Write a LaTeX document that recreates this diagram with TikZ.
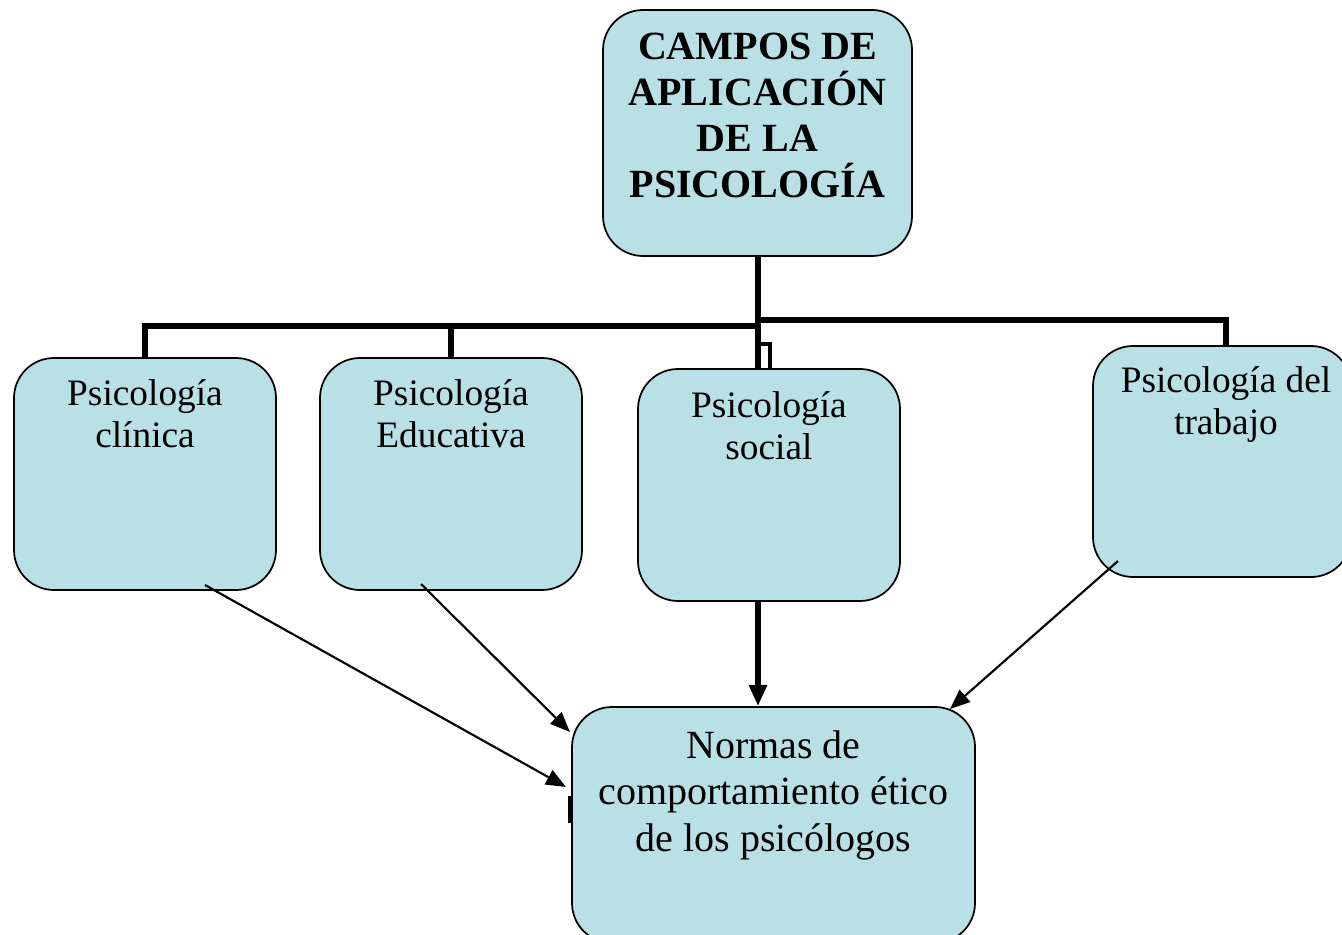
\documentclass[tikz,border=0pt]{standalone}
\usepackage{fontspec}
\setmainfont{Liberation Serif}
\usetikzlibrary{arrows.meta}
\definecolor{boxblue}{RGB}{185,224,228}
\tikzset{
  box/.style={draw=black, line width=1.3pt, fill=boxblue, rounded corners=30pt, inner sep=0pt},
  boxtext/.style={anchor=north, inner sep=0pt, align=center},
  small/.style={font=\fontsize{28}{31.5}\selectfont},
  thick conn/.style={line width=4.3pt},
  thin arrow/.style={line width=1.6pt, -{Triangle[length=15pt,width=12pt]}},
}
\begin{document}
\begin{tikzpicture}[x=0.75pt,y=-0.75pt]
\useasboundingbox (0,0) rectangle (1342,935);
% boxes
\node[box, minimum width=309*0.75pt, minimum height=246*0.75pt] (top) at (757.5,133) {};
\node[box, minimum width=262*0.75pt, minimum height=232*0.75pt] (clin) at (145,474) {};
\node[box, minimum width=262*0.75pt, minimum height=232*0.75pt] (edu) at (451,474) {};
\node[box, minimum width=262*0.75pt, minimum height=232*0.75pt] (soc) at (769,485) {};
\node[box, minimum width=258*0.75pt, minimum height=231*0.75pt] (trab) at (1222,461.5) {};
\node[box, minimum width=403*0.75pt, minimum height=236*0.75pt] (norm) at (773.5,825) {};
% texts
\node[boxtext, font=\fontsize{30}{34.5}\selectfont\bfseries] (toptext) at (757.5,33) {CAMPOS DE\\APLICACIÓN\\DE LA\\PSICOLOGÍA};
\node[boxtext, small] (clintext) at (145,379) {Psicología\\clínica};
\node[boxtext, small] (edutext) at (451,379) {Psicología\\Educativa};
\node[boxtext, small] (soctext) at (769,391) {Psicología\\social};
\node[boxtext, small] (trabtext) at (1226,366) {Psicología del\\trabajo};
\node[boxtext, font=\fontsize{30}{35}\selectfont] (normtext) at (773.5,730) {Normas de\\comportamiento ético\\de los psicólogos};
% tree connectors
\coordinate (jl) at (758,326);
\coordinate (jr) at (758,320);
\coordinate (js) at (758,344);
\coordinate (tr) at (1226,320);
\draw[thick conn] (top.south -| jl) -- (soc.north -| jl);
\draw[thick conn] (jl) -- (jl -| clin.north) -- (clin.north);
\draw[thick conn] (jl -| edu.north) -- (edu.north);
\draw[thick conn] (jr) -- (tr) -- (trab.north -| tr);
\coordinate (sj) at (770,344);
\draw[thick conn, line width=3.6pt] (js) -- (sj) -- (soc.north -| sj);
% arrows
\coordinate (c1) at (205,585);
\coordinate (e1) at (421,584);
\coordinate (t1) at (1118,561);
\coordinate (c2) at (566,787);
\coordinate (e2) at (570,732);
\coordinate (t2) at (950,709);
\draw[thin arrow] (c1) -- (c2);
\draw[thin arrow] (e1) -- (e2);
\draw[thin arrow] (t1) -- (t2);
\draw[line width=4.3pt, -{Triangle[length=16pt,width=13pt]}] (soc.south -| jl) -- (norm.north -| jl);
% small mark on the left edge
\draw[line width=2.4pt] (570,796) -- (570,823);
\end{tikzpicture}
\end{document}
